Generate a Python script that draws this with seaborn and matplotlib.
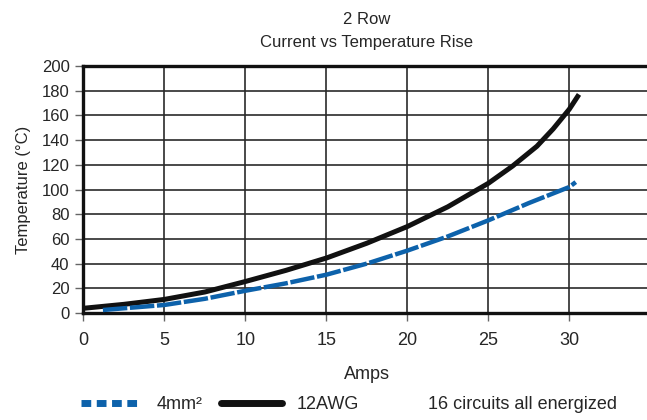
import matplotlib
import pandas as pd
import seaborn as sns
from matplotlib import pyplot
from matplotlib.lines import Line2D

# data
amps_4mm = [1.2, 2.5, 5, 7.5, 10, 12.5, 15, 17.5, 20, 22.5, 25, 27.5, 30, 30.4]
temp_4mm = [2.4, 3.8, 6.5, 11.5, 18, 24, 31, 40, 50.5, 62, 75, 89, 102, 106]
amps_awg = [0, 2.5, 5, 7.5, 10, 12.5, 15, 17.5, 20, 22.5, 25, 26.5, 28, 29, 30, 30.6]
temp_awg = [3.8, 7, 11, 17, 25.5, 34.5, 44.5, 56.5, 70, 86, 105, 119, 135, 149, 165, 177]
x_ticks = [0, 5, 10, 15, 20, 25, 30]
y_ticks = list(range(0, 201, 20))

sns.set_theme(style="white")
pyplot.rcParams['font.family'] = ['Liberation Sans Narrow', 'Liberation Sans', 'DejaVu Sans']

blue = "#0d62ab"
fontsize = 12

df_4mm = pd.DataFrame({"Amps": amps_4mm, "Temp": temp_4mm})
df_awg = pd.DataFrame({"Amps": amps_awg, "Temp": temp_awg})

fig = pyplot.figure(figsize=(6.47, 4.2), dpi=100)
ax = fig.add_axes([0.129, 0.2548, 0.876, 0.588])

ax.set_xlim(0, 35)
ax.set_ylim(0, 200)
ax.set_xticks(x_ticks)
ax.set_yticks(y_ticks)
ax.grid(True, color="#2a2a2a", linewidth=1.2)
ax.set_axisbelow(True)

sns.lineplot(data=df_awg, x="Amps", y="Temp", ax=ax, color="#111111",
             linewidth=3.6, solid_capstyle="butt", solid_joinstyle="round", zorder=3)
line_b = sns.lineplot(data=df_4mm, x="Amps", y="Temp", ax=ax, color=blue,
                      linewidth=3.2, zorder=4).lines[-1]
line_b.set_dashes((5.5, 0.6))

for side in ["left", "bottom", "top"]:
    ax.spines[side].set_color("#111111")
    ax.spines[side].set_linewidth(2.4)
ax.spines["right"].set_visible(False)

ax.tick_params(axis="both", which="both", direction="out", length=6, width=1,
               color="#666666", labelsize=fontsize, pad=4, left=True, bottom=True)
ax.tick_params(axis="x", pad=8, labelsize=fontsize + 1)

ax.set_xlabel("Amps", fontsize=fontsize + 1, labelpad=12)
ax.set_ylabel("Temperature (°C)", fontsize=fontsize, labelpad=8)
ax.set_title("2 Row\nCurrent vs Temperature Rise", fontsize=fontsize, pad=14, linespacing=1.6)

handles = [Line2D([], [], color=blue, linewidth=5, dashes=(1.4, 0.8)),
           Line2D([], [], color="#111111", linewidth=5)]
fig.legend(handles, ["4mm²", "12AWG"], loc="center left", bbox_to_anchor=(0.1, 0.036),
           ncol=2, frameon=False, fontsize=fontsize + 1, handlelength=3.4,
           handletextpad=0.8, columnspacing=1.0)
fig.text(428 / 647, 0.036, "16 circuits all energized", fontsize=fontsize + 1, va="center")

pyplot.savefig("out.png", dpi=100)
pyplot.close()
